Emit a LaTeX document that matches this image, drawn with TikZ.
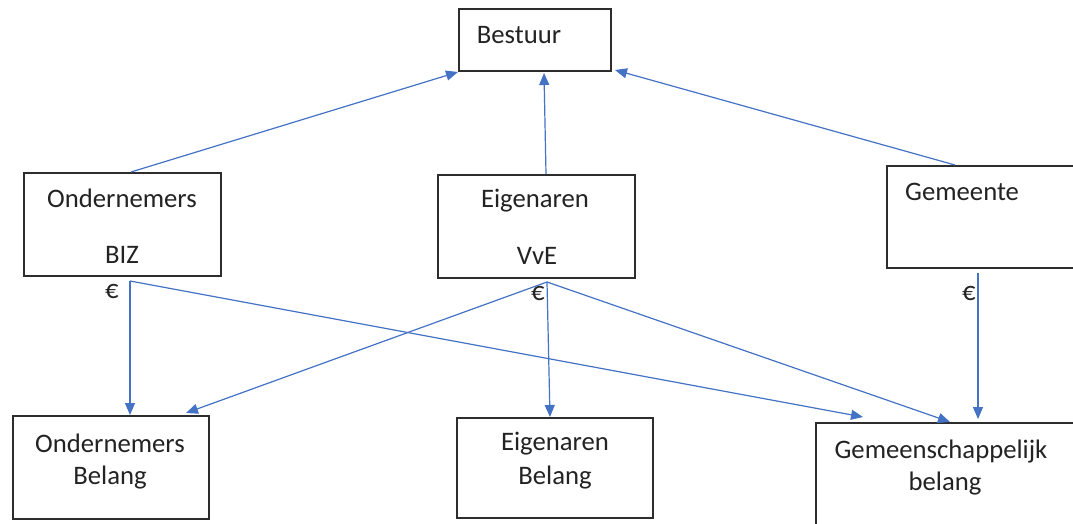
\documentclass[tikz,border=0pt]{standalone}
\usepackage{fontspec}
\setmainfont{Carlito}
\usetikzlibrary{arrows.meta,calc}
\definecolor{arrblue}{RGB}{68,114,196}
\definecolor{boxgray}{RGB}{45,45,45}
\definecolor{txt}{RGB}{35,35,35}
\begin{document}
\begin{tikzpicture}[x=1pt,y=-1pt,
  box/.style={draw=boxgray,line width=2pt,inner sep=0pt,anchor=north west,fill=none},
  lbl/.style={text=txt,inner sep=0pt,anchor=base,font=\fontsize{26.7}{32}\selectfont},
  arr/.style={draw=arrblue,line width=1.2pt,-{Triangle[length=12pt,width=10pt]}},
  ln/.style={draw=arrblue,line width=1.2pt}]
\useasboundingbox (0,0) rectangle (1073,524);
\clip (0,0) rectangle (1073,524);
\fill[white] (0,0) rectangle (1073,524);
% boxes
\node[box,minimum width=152pt,minimum height=62pt] (best) at (458,8) {};
\node[box,minimum width=197pt,minimum height=103pt] (biz) at (23,172) {};
\node[box,minimum width=197pt,minimum height=103pt] (vve) at (437,174) {};
\node[box,minimum width=200pt,minimum height=102pt] (gem) at (886,165) {};
\node[box,minimum width=196pt,minimum height=103pt] (ob) at (12,415) {};
\node[box,minimum width=196pt,minimum height=100pt] (eb) at (456,417) {};
\node[box,minimum width=270pt,minimum height=130pt] (gb) at (815,422) {};
% texts
\node[lbl] (tbest) at (519,44) {Bestuur};
\node[lbl] (tbiz1) at (122,207) {Ondernemers};
\node[lbl] (tbiz2) at (122,263) {BIZ};
\node[lbl] (tvve1) at (535,207) {Eigenaren};
\node[lbl] (tvve2) at (537,264) {VvE};
\node[lbl,anchor=base west] (tgem) at (905,200) {Gemeente};
\node[lbl] (tob1) at (110,452) {Ondernemers};
\node[lbl] (tob2) at (110,484) {Belang};
\node[lbl] (teb1) at (555,450) {Eigenaren};
\node[lbl] (teb2) at (555,484) {Belang};
\node[lbl] (tgb1) at (941,458) {Gemeenschappelijk};
\node[lbl] (tgb2) at (945,490) {belang};
\node[lbl] (e1) at (112,298) {€};
\node[lbl] (e2) at (538,300) {€};
\node[lbl] (e3) at (969,300) {€};
% free ends
\coordinate (bizE) at (130,281);
\coordinate (vveE) at (547,282);
\coordinate (gemE) at (978,273);
% connectors
\draw[arr] ($(biz.north)+(8.5,0)$) -- (best.south west);
\draw[arr] ($(vve.north)+(9.5,0)$) -- ($(best.south)+(9,1)$);
\draw[arr] ($(gem.north west)+(69,0)$) -- ($(best.south east)+(3,-2)$);
\draw[arr] (bizE) -- (ob.north -| bizE);
\draw[arr] (bizE) -- ($(gb.north west)+(48,-5)$);
\draw[arr] (vveE) -- ($(ob.north east)+(-24,-2)$);
\draw[arr] (vveE) -- ($(eb.north west)+(94,0)$);
\draw[arr] (vveE) -- ($(gb.north west)+(135,0)$);
\draw[arr] (gemE) -- ($(gb.north west)+(163,-3)$);
\end{tikzpicture}
\end{document}
